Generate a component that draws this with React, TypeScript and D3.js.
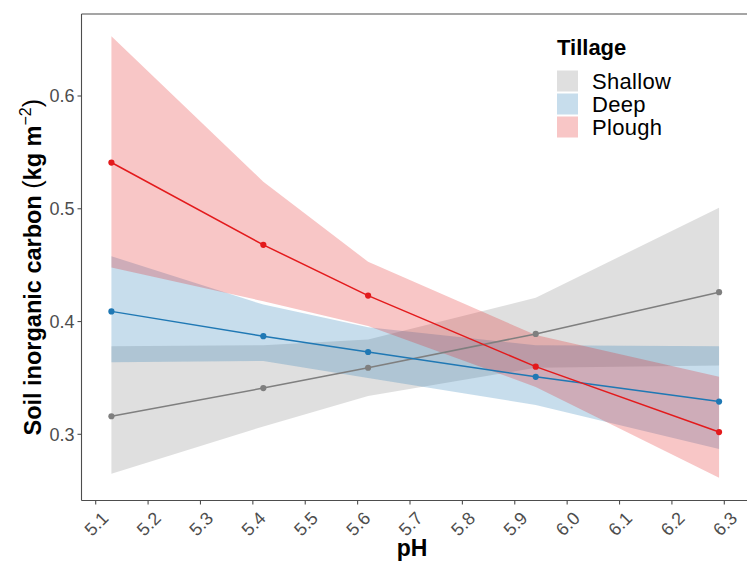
import React from "react";
import * as d3 from "d3";

// pH values where predictions were made
const phValues = [5.13, 5.42, 5.62, 5.94, 6.29];

// Predicted soil inorganic carbon and confidence limits per tillage
const shallowFit = [0.316, 0.341, 0.359, 0.389, 0.426];
const shallowLow = [0.265, 0.307, 0.334, 0.359, 0.361];
const shallowHigh = [0.378, 0.379, 0.384, 0.421, 0.501];

const deepFit = [0.409, 0.387, 0.373, 0.351, 0.329];
const deepLow = [0.364, 0.365, 0.35, 0.326, 0.287];
const deepHigh = [0.458, 0.415, 0.395, 0.379, 0.378];

const ploughFit = [0.541, 0.468, 0.423, 0.36, 0.302];
const ploughLow = [0.448, 0.418, 0.396, 0.342, 0.2615];
const ploughHigh = [0.653, 0.524, 0.453, 0.388, 0.351];

const tillageNames = ["Shallow", "Deep", "Plough"];
const tillageColors = ["#7f7f7f", "#1f78b4", "#e31a1c"];

const xTicks = [5.1, 5.2, 5.3, 5.4, 5.5, 5.6, 5.7, 5.8, 5.9, 6.0, 6.1, 6.2, 6.3];
const yTicks = [0.3, 0.4, 0.5, 0.6];

const W = 747;
const H = 566;
const left = 81.5;
const top = 14;
const bottom = 500.5;

export default function App() {
  const x = d3.scaleLinear().domain([5.1, 6.3]).range([95.7, 724.3]);
  const y = d3.scaleLinear().domain([0.3, 0.6]).range([434.3, 96]);

  const series = [
    { name: tillageNames[0], color: tillageColors[0], fit: shallowFit, lo: shallowLow, hi: shallowHigh },
    { name: tillageNames[1], color: tillageColors[1], fit: deepFit, lo: deepLow, hi: deepHigh },
    { name: tillageNames[2], color: tillageColors[2], fit: ploughFit, lo: ploughLow, hi: ploughHigh },
  ];

  const font = "'Liberation Sans', Arial, Helvetica, sans-serif";
  const axisCol = "#4d4d4d";
  const tickTextCol = "#4d4d4d";

  return (
    <svg
      width={W}
      height={H}
      style={{ position: "absolute", left: 0, top: 0, background: "#fff" }}
      fontFamily={font}
    >
      <rect x={0} y={0} width={W} height={H} fill="#fff" />
      {/* ribbons */}
      {series.map((s) => {
        const a = d3
          .area<number>()
          .x((_, i) => x(phValues[i]))
          .y0((_, i) => y(s.lo[i]))
          .y1((_, i) => y(s.hi[i]));
        return (
          <path key={"r" + s.name} d={a(s.fit) || ""} fill={s.color} fillOpacity={0.25} stroke="none" />
        );
      })}
      {/* lines and points */}
      {series.map((s) => {
        const l = d3
          .line<number>()
          .x((_, i) => x(phValues[i]))
          .y((d) => y(d));
        return (
          <g key={"l" + s.name}>
            <path d={l(s.fit) || ""} fill="none" stroke={s.color} strokeWidth={1.5} />
            {s.fit.map((v, i) => (
              <circle key={i} cx={x(phValues[i])} cy={y(v)} r={3.1} fill={s.color} />
            ))}
          </g>
        );
      })}

      {/* panel lines */}
      <line x1={left} x2={left} y1={top} y2={bottom} stroke={axisCol} strokeWidth={1.1} />
      <line x1={left} x2={W} y1={bottom} y2={bottom} stroke={axisCol} strokeWidth={1.1} />
      <line x1={left} x2={W} y1={top} y2={top} stroke={axisCol} strokeWidth={1.1} />

      {/* y ticks */}
      {yTicks.map((t) => (
        <g key={"y" + t}>
          <line x1={left - 4} x2={left} y1={y(t)} y2={y(t)} stroke={axisCol} strokeWidth={1.1} />
          <text x={left - 7} y={y(t)} dy="0.36em" textAnchor="end" fontSize={18} fill={tickTextCol}>
            {t.toFixed(1)}
          </text>
        </g>
      ))}
      {/* x ticks */}
      {xTicks.map((t) => (
        <g key={"x" + t}>
          <line x1={x(t)} x2={x(t)} y1={bottom} y2={bottom + 4} stroke={axisCol} strokeWidth={1.1} />
          <text
            transform={`translate(${x(t) + 5},${bottom + 10}) rotate(-45)`}
            textAnchor="end"
            dy="0.7em"
            fontSize={18}
            fill={tickTextCol}
          >
            {t.toFixed(1)}
          </text>
        </g>
      ))}

      {/* axis titles */}
      <text x={412} y={556} textAnchor="middle" fontSize={23} fontWeight="bold" fill="#000">
        pH
      </text>
      <text
        transform={`translate(41,${(top + bottom) / 2 + 10}) rotate(-90)`}
        textAnchor="middle"
        fontSize={23.5}
        fontWeight="bold"
        fill="#000"
      >
        Soil inorganic carbon{" "}
        <tspan fontWeight="normal" fontSize={25}>(</tspan>
        kg m
        <tspan dy={-10} fontSize={16} fontWeight="normal">−2</tspan>
        <tspan dy={10} fontWeight="normal" fontSize={25}>)</tspan>
      </text>

      {/* legend */}
      <text x={557} y={55} fontSize={22} fontWeight="bold" fill="#000">
        Tillage
      </text>
      {series.map((s, i) => (
        <g key={"lg" + s.name} transform={`translate(557,${70.5 + i * 23})`}>
          <rect x={0} y={0} width={21} height={21} fill={s.color} fillOpacity={0.25} />
          <text x={35} y={10.5} dy="0.35em" fontSize={22} letterSpacing={0.3} fill="#000">
            {s.name}
          </text>
        </g>
      ))}
    </svg>
  );
}
